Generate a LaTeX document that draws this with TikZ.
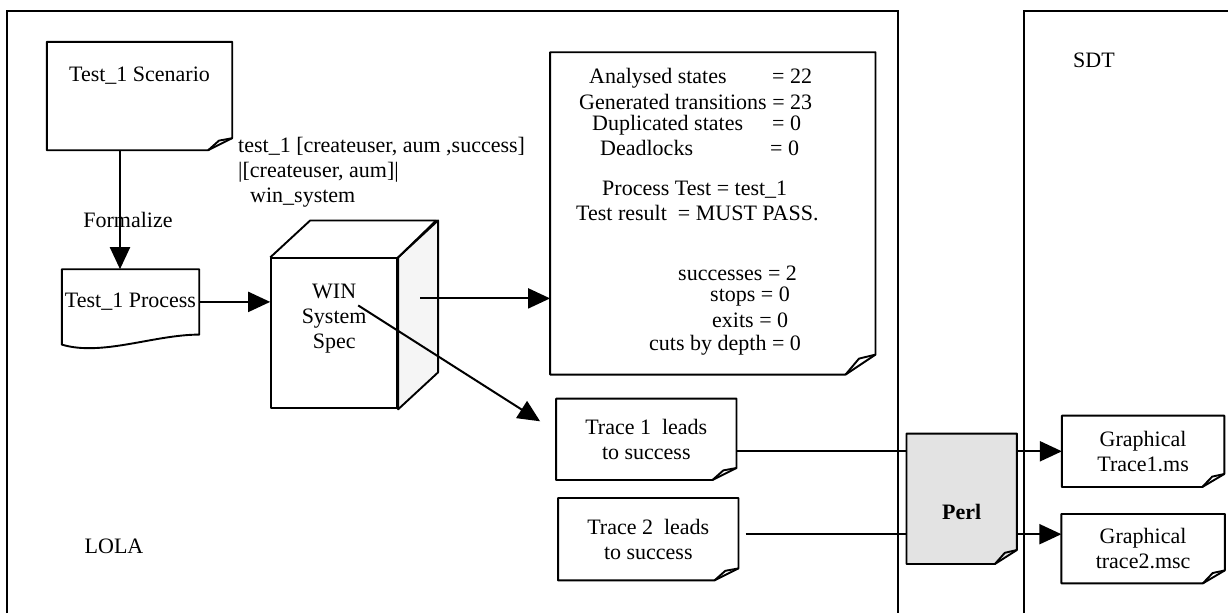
\documentclass[tikz,border=0pt]{standalone}
\usepackage{fontspec}
\setmainfont{Liberation Serif}
\usetikzlibrary{positioning,arrows.meta}
\pgfdeclarelayer{bg}
\pgfsetlayers{bg,main}

% outline of a note with a folded bottom-right corner
\newcommand{\dogear}[4][]{%
  \begin{pgfonlayer}{bg}
  \draw[docline,#1] (#2.north west) -- (#2.north east) -- ([yshift=#4]#2.south east)
    -- ([xshift=-#3]#2.south east) -- (#2.south west) -- cycle;
  \draw[docline] ([xshift=-#3]#2.south east) -- ([xshift=-0.55*#3,yshift=0.8*#4]#2.south east)
    -- ([yshift=#4]#2.south east);
  \end{pgfonlayer}
}

\begin{document}
\begin{tikzpicture}[
    x=1pt,y=-1pt,
    >={Triangle[length=22pt,width=20pt]},
    every node/.style={font=\fontsize{22}{25}\selectfont},
    docnode/.style={inner sep=0pt,align=center},
    docline/.style={line width=1.9pt,line join=round},
    resline/.style={anchor=west,inner sep=0pt},
    frame/.style={line width=1.6pt},
    conn/.style={line width=2pt}
]
\begin{pgfonlayer}{bg}
\fill[white] (0,0) rectangle (1228,613);
\end{pgfonlayer}
\useasboundingbox (0,0) rectangle (1228,613);

% tool frames
\draw[frame] (7,613) -- (7,11) -- (898,11) -- (898,613);
\draw[frame] (1024,613) -- (1024,11) -- (1228,11);
\node (lola) at (114,546) {LOLA};
\node (sdt) at (1094,60) {SDT};

% documents
\node[docnode,minimum width=185pt,minimum height=108pt,text depth=43pt] (scen) at (139.5,96) {Test\_1 Scenario};
\node[docnode,minimum width=137pt,minimum height=65pt,below=119pt of scen,xshift=-9pt] (proc) {Test\_1 Process};
\node[docnode,draw,docline,fill=white,minimum width=126pt,minimum height=150pt,text depth=34pt,
      right=71pt of proc,yshift=-31.5pt] (spec) {WIN\\System\\Spec};
\node[docnode,minimum width=325pt,minimum height=322pt,right=152pt of spec,yshift=120pt] (res) {};
\node[docnode,minimum width=180pt,minimum height=81pt,below=24pt of res,xshift=-66.5pt] (trace1) {Trace 1\ \ leads\\to success};
\node[docnode,minimum width=180pt,minimum height=82pt,below=18pt of trace1,xshift=2pt] (trace2) {Trace 2\ \ leads\\to success};
\node[docnode,minimum width=110pt,minimum height=130pt,text height=42pt,right=170pt of trace1,yshift=-59.5pt] (perl) {\bfseries Perl};
\node[docnode,minimum width=162pt,minimum height=71pt,right=45pt of perl,yshift=47.5pt] (graph1) {Graphical\\Trace1.ms};
\node[docnode,minimum width=163pt,minimum height=69pt,below=27pt of graph1] (graph2) {Graphical\\trace2.msc};

\dogear{scen}{24pt}{12pt}
\dogear{res}{30pt}{20pt}
\dogear{trace1}{24pt}{12pt}
\dogear{trace2}{24pt}{12pt}
\dogear[fill=gray!22]{perl}{22pt}{14pt}
\dogear{graph1}{22pt}{13pt}
\dogear{graph2}{22pt}{13pt}

% process with wavy bottom
\draw[docline] (proc.north west) -- (proc.north east) -- (proc.south east)
  .. controls ([shift={(-45,0)}]proc.south east) and ([shift={(40,22)}]proc.south west) .. ([yshift=-10pt]proc.south west) -- cycle;

% cube around the spec
\filldraw[docline,fill=gray!8] (spec.north east) -- ++(40,-37) -- ([shift={(40,-37)}]spec.south east) -- (spec.south east) -- cycle;
\draw[docline] (spec.north west) -- ++(40,-37) -- ++(126,0) -- (spec.north east);

% results of the test run
\node[resline] (r1) at (589,78) {\makebox[183pt][l]{Analysed states}= 22};
\node[resline] (r2) at (579,102) {Generated transitions = 23};
\node[resline] (r3) at (592,125) {\makebox[180pt][l]{Duplicated states}= 0};
\node[resline] (r4) at (600,148) {\makebox[170pt][l]{Deadlocks}= 0};
\node[resline] (r5) at (602,190) {Process Test = test\_1};
\node[resline] (r6) at (576,213) {Test result\ \ = MUST PASS.};
\node[resline] (r7) at (678,273) {successes = 2};
\node[resline] (r8) at (710,297) {stops = 0};
\node[resline] (r9) at (712,320) {exits = 0};
\node[resline] (r10) at (649,345) {cuts by depth = 0};

% labels
\node[resline,align=left] (gates) at (238,172) {test\_1 [createuser, aum ,success]\\|[createuser, aum]|\\\hspace*{12pt}win\_system};
\node (fml) at (128,220) {Formalize};

% connectors
\draw[conn,->] ([xshift=-19.5pt]scen.south) -- ([xshift=-10.5pt]proc.north);
\draw[conn,->] (proc.east) -- (proc.east -| spec.west);
\coordinate (specout) at ([xshift=22pt,yshift=35pt]spec.east);
\draw[conn,->] (specout) -- (specout -| res.west);
\coordinate (specin) at ([xshift=24pt,yshift=28pt]spec.center);
\draw[conn,->] (specin) -- ([xshift=-16pt,yshift=18pt]trace1.west);
\coordinate (t1out) at ([yshift=-11.5pt]trace1.east);
\draw[conn] (t1out) -- (t1out -| perl.west);
\coordinate (t2out) at ([xshift=7pt,yshift=5pt]trace2.east);
\draw[conn] (t2out) -- (t2out -| perl.west);
\draw[conn,->] (perl.east |- graph1.west) -- (graph1.west);
\coordinate (g2in) at ([yshift=14.5pt]graph2.west);
\draw[conn,->] (g2in -| perl.east) -- (g2in);
\end{tikzpicture}
\end{document}
